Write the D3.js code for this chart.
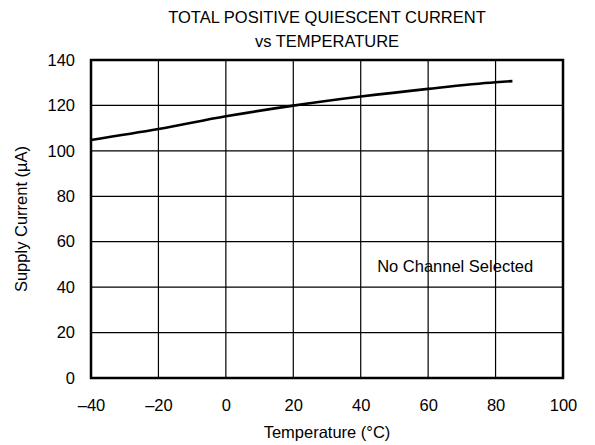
<!DOCTYPE html>
<html><head><meta charset="utf-8">
<script src="https://cdn.jsdelivr.net/npm/d3@7"></script>
<style>body{margin:0;background:#fff}text{font-family:"Liberation Sans",Arial,sans-serif;fill:#000}</style>
</head><body>
<svg id="c" width="595" height="445"></svg>
<script>
const temps = [-40, -20, 0, 20, 40, 60, 80, 85];
const current = [104.8, 109.6, 115.2, 119.9, 123.9, 127.3, 130.2, 130.7];
const xTicks = [-40, -20, 0, 20, 40, 60, 80, 100];
const yTicks = [0, 20, 40, 60, 80, 100, 120, 140];
const titleLines = ["TOTAL POSITIVE QUIESCENT CURRENT", "vs TEMPERATURE"];

const FS = 16.5;
const svg = d3.select("#c");
const L = 91, R = 563, T = 60, B = 378;
const x = d3.scaleLinear().domain([-40, 100]).range([L, R]);
const y = d3.scaleLinear().domain([0, 140]).range([B, T]);

// grid
svg.append("g").selectAll("line").data(xTicks).join("line")
  .attr("x1", d => x(d)).attr("x2", d => x(d)).attr("y1", T).attr("y2", B)
  .attr("stroke", "#000").attr("stroke-width", 1.2);
svg.append("g").selectAll("line").data(yTicks).join("line")
  .attr("y1", d => y(d)).attr("y2", d => y(d)).attr("x1", L).attr("x2", R)
  .attr("stroke", "#000").attr("stroke-width", 1.2);
svg.append("rect").attr("x", L).attr("y", T).attr("width", R - L).attr("height", B - T)
  .attr("fill", "none").attr("stroke", "#000").attr("stroke-width", 2.5);

// axes tick labels
const fmt = d => d < 0 ? "\u2013" + Math.abs(d) : String(d);
const xAxis = d3.axisBottom(x).tickValues(xTicks).tickSize(0).tickPadding(21).tickFormat(fmt);
const gx = svg.append("g").attr("transform", `translate(0,${B})`).call(xAxis);
gx.select(".domain").remove();
gx.selectAll("text").attr("font-size", FS).attr("font-family", "Liberation Sans, Arial, sans-serif");
const yAxis = d3.axisLeft(y).tickValues(yTicks).tickSize(0).tickPadding(16).tickFormat(fmt);
const gy = svg.append("g").attr("transform", `translate(${L},0)`).call(yAxis);
gy.select(".domain").remove();
gy.selectAll("text").attr("font-size", FS).attr("font-family", "Liberation Sans, Arial, sans-serif");

// curve
const line = d3.line().x((d, i) => x(temps[i])).y(d => y(d)).curve(d3.curveMonotoneX);
svg.append("path").datum(current).attr("d", line)
  .attr("fill", "none").attr("stroke", "#000").attr("stroke-width", 2.6);

// titles
svg.append("g").selectAll("text").data(titleLines).join("text")
  .attr("x", (L + R) / 2).attr("y", (d, i) => 23 + i * 24)
  .attr("text-anchor", "middle").attr("font-size", FS).text(d => d);
svg.append("text").attr("x", (L + R) / 2).attr("y", 438).attr("text-anchor", "middle")
  .attr("font-size", FS).text("Temperature (\u00B0C)");
svg.append("text").attr("transform", `translate(27,${(T + B) / 2}) rotate(-90)`)
  .attr("text-anchor", "middle").attr("font-size", FS).text("Supply Current (\u00B5A)");
svg.append("text").attr("x", x(68)).attr("y", y(46.7)).attr("text-anchor", "middle")
  .attr("font-size", FS).text("No Channel Selected");
</script>
</body></html>
